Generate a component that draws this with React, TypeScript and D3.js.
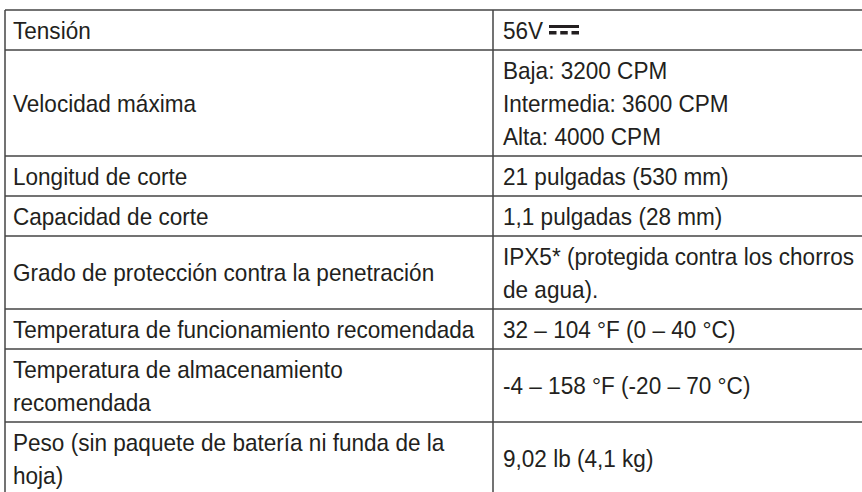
import React, { useEffect } from 'react';
import * as d3 from 'd3';

// spec table: left column labels, right column values (one entry per printed line)
const labels = [
  ['Tensión'],
  ['Velocidad máxima'],
  ['Longitud de corte'],
  ['Capacidad de corte'],
  ['Grado de protección contra la penetración'],
  ['Temperatura de funcionamiento recomendada'],
  ['Temperatura de almacenamiento', 'recomendada'],
  ['Peso (sin paquete de batería ni funda de la', 'hoja)'],
];

const values = [
  ['56V'],
  ['Baja: 3200 CPM', 'Intermedia: 3600 CPM', 'Alta: 4000 CPM'],
  ['21 pulgadas (530 mm)'],
  ['1,1 pulgadas (28 mm)'],
  ['IPX5* (protegida contra los chorros', 'de agua).'],
  ['32 – 104 °F (0 – 40 °C)'],
  ['-4 – 158 °F (-20 – 70 °C)'],
  ['9,02 lb (4,1 kg)'],
];

// rows whose value carries the direct-current symbol
const dcRows = ['Tensión'];

const W = 862;
const H = 492;
const left = 5;
const split = 493;
const right = 900;
const top = 10;
const lineGap = 33;
const pad = 7;
const squeeze = 0.94; // condensed look: tall glyphs, narrow advance

const font = "'Liberation Sans', Arial, sans-serif";

const App = () => {
  useEffect(() => {
    document.body.style.margin = '0';
  }, []);

  const nLines = labels.map((l, i) => Math.max(l.length, values[i].length));
  const heights = nLines.map((n) => n * lineGap + pad);
  const edges = [top, ...Array.from(d3.cumsum(heights), (c) => top + c)];

  const lineY = (row: number, i: number, n: number) =>
    (edges[row] + edges[row + 1]) / 2 + (i - (n - 1) / 2) * lineGap;

  const cellText = (cols: string[][], x: number, key: string) =>
    cols.map((lines, r) =>
      lines.map((t, i) => (
        <text
          key={`${key}${r}-${i}`}
          transform={`translate(${x},${lineY(r, i, lines.length)}) scale(${squeeze},1)`}
          dy="0.36em"
        >
          {t}
        </text>
      ))
    );

  return (
    <svg width={W} height={H} style={{ display: 'block', background: '#fff' }}>
      <g fill="#231f20" fontFamily={font} fontSize={24}>
        {cellText(labels, left + 8, 'l')}
        {cellText(values, split + 10, 'v')}
      </g>
      {labels.map((l, r) =>
        dcRows.includes(l[0]) ? (
          <g key={`dc${r}`} transform={`translate(${split + 56},${lineY(r, 0, 1) - 5})`} fill="#231f20">
            <rect x={0} y={0} width={30} height={3} />
            <rect x={0} y={6} width={7.5} height={3.5} />
            <rect x={11.25} y={6} width={7.5} height={3.5} />
            <rect x={22.5} y={6} width={7.5} height={3.5} />
          </g>
        ) : null
      )}
      <g stroke="#444" strokeWidth={1.5} fill="none">
        {edges.map((e, i) => (
          <line key={`h${i}`} x1={left} x2={right} y1={e} y2={e} />
        ))}
        <line x1={left} x2={left} y1={top} y2={H + 10} />
        <line x1={split} x2={split} y1={top} y2={H + 10} />
      </g>
    </svg>
  );
};

export default App;
